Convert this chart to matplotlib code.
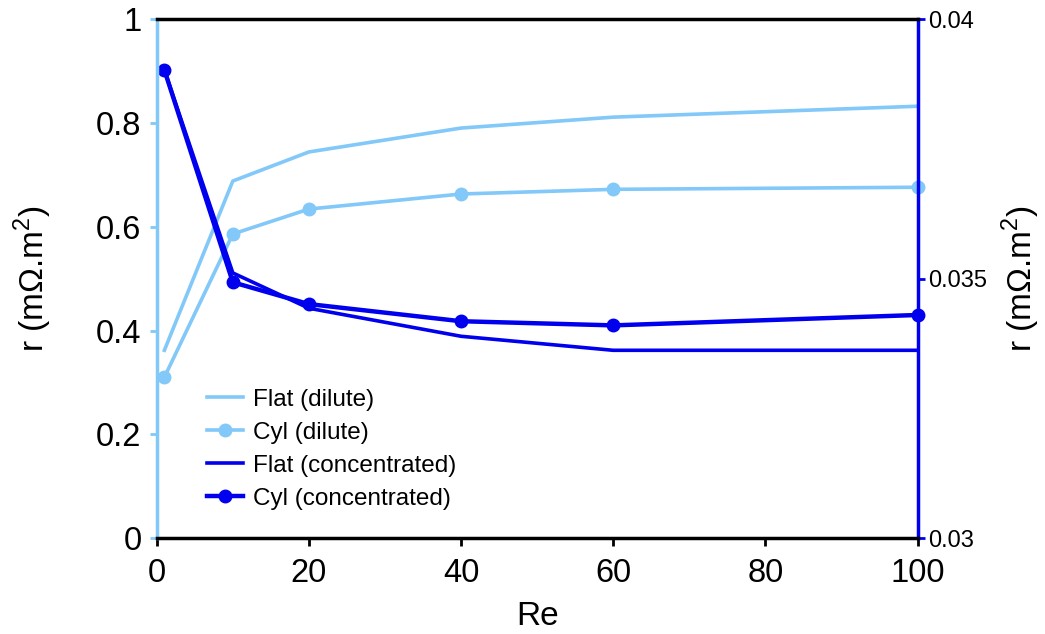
import numpy as np
import matplotlib.pyplot as plt

plt.rcParams['font.family'] = ['Liberation Sans', 'DejaVu Sans']
plt.rcParams['mathtext.fontset'] = 'custom'
plt.rcParams['mathtext.rm'] = 'Liberation Sans'

# Reynolds numbers
re = [1, 10, 20, 40, 60, 100]
# dilute case (left axis)
flat_dilute = [0.362, 0.688, 0.744, 0.790, 0.811, 0.832]
cyl_dilute = [0.310, 0.586, 0.634, 0.663, 0.672, 0.676]
# concentrated case (right axis)
flat_conc = [0.03902, 0.03511, 0.03443, 0.03389, 0.03362, 0.03362]
cyl_conc = [0.03902, 0.03493, 0.03451, 0.03418, 0.03410, 0.03430]

light = '#82c8f8'
dark = '#0000ee'

fig = plt.figure(figsize=(10.45, 6.34), dpi=100)
ax = fig.add_axes([0.150, 0.151, 0.728, 0.819])
ax2 = ax.twinx()

l1, = ax.plot(re, flat_dilute, color=light, lw=2.6, label='Flat (dilute)', clip_on=False)
l2, = ax.plot(re, cyl_dilute, color=light, lw=2.6, marker='o', ms=9,
              label='Cyl (dilute)', clip_on=False)
l3, = ax2.plot(re, flat_conc, color=dark, lw=2.6, label='Flat (concentrated)', clip_on=False)
l4, = ax2.plot(re, cyl_conc, color=dark, lw=3.2, marker='o', ms=9,
               label='Cyl (concentrated)', clip_on=False)

ax.set_xlim(0, 100)
ax.set_ylim(0, 1)
ax2.set_ylim(0.03, 0.04)
ax.set_xticks([0, 20, 40, 60, 80, 100])
ax.set_yticks([0, 0.2, 0.4, 0.6, 0.8, 1])
ax.set_yticklabels(['0', '0.2', '0.4', '0.6', '0.8', '1'])
ax2.set_yticks([0.03, 0.035, 0.04])
ax2.set_yticklabels(['0.03', '0.035', '0.04'])

for s in ['top', 'bottom']:
    ax2.spines[s].set_color('black')
    ax2.spines[s].set_linewidth(2.5)
ax2.spines['left'].set_color(light)
ax2.spines['left'].set_linewidth(2.5)
ax2.spines['right'].set_color(dark)
ax2.spines['right'].set_linewidth(2.5)
for s in ax.spines.values():
    s.set_visible(False)

ax.tick_params(axis='x', labelsize=23.5, length=6, width=2, color='black', pad=8)
ax.tick_params(axis='y', labelsize=23.5, length=5, width=2, color=light, pad=6)
ax2.tick_params(axis='y', labelsize=17, length=5, width=2, color=dark, pad=3)

ax.set_xlabel('Re', fontsize=24, labelpad=9)
ax.set_ylabel('r (mΩ.m$^{2}$)', fontsize=24, labelpad=30)
ax2.set_ylabel('r (mΩ.m$^{2}$)', fontsize=24, labelpad=9)

ax.legend(handles=[l1, l2, l3, l4], loc='lower left', bbox_to_anchor=(0.037, 0.013),
          frameon=False, fontsize=17.5, handlelength=1.5, handletextpad=0.4,
          labelspacing=0.45)

fig.savefig('out.png', dpi=100)
